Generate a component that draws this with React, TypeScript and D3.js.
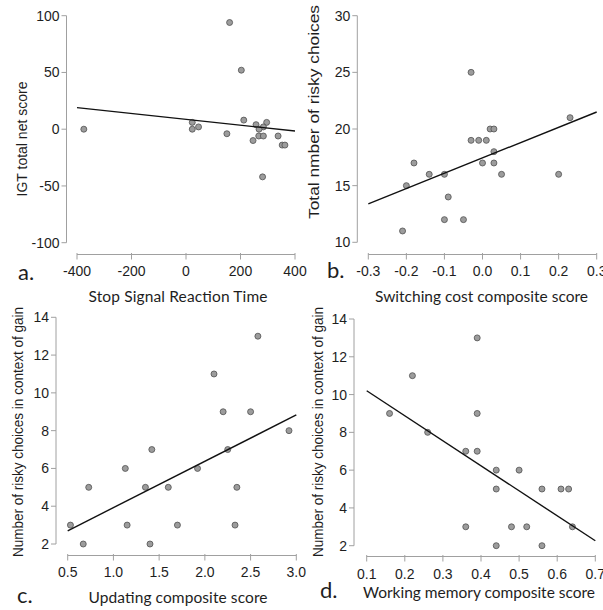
import React from "react";
import * as d3 from "d3";

// ---- Data ----
// a. Stop Signal Reaction Time vs IGT total net score
const aX = [-375, 160, 203, 212, 23, 23, 46, 150, 257, 296, 284, 268, 246, 267, 284, 338, 353, 363, 281];
const aY = [0, 94, 52, 8, 6, 0, 2, -4, 4, 6, 2, 0, -10, -6, -6, -6, -14, -14, -42];
const aFit = [19.0, -1.6]; // fitted y at x-domain ends

// b. Switching cost composite score vs total number of risky choices
const bX = [-0.03, 0.23, 0.02, 0.03, -0.03, -0.01, 0.01, 0.03, -0.18, 0.0, 0.03, -0.14, -0.1, 0.05, 0.2, -0.2, -0.09, -0.1, -0.05, -0.21];
const bY = [25, 21, 20, 20, 19, 19, 19, 18, 17, 17, 17, 16, 16, 16, 16, 15, 14, 12, 12, 11];
const bFit = [13.4, 21.5];

// c. Updating composite score vs risky choices in context of gain
const cX = [0.53, 0.67, 0.73, 1.13, 1.15, 1.35, 1.42, 1.4, 1.6, 1.7, 1.92, 2.1, 2.2, 2.25, 2.35, 2.33, 2.5, 2.58, 2.92];
const cY = [3, 2, 5, 6, 3, 5, 7, 2, 5, 3, 6, 11, 9, 7, 5, 3, 9, 13, 8];
const cFit = [2.7, 8.83];

// d. Working memory composite score vs risky choices in context of gain
const dX = [0.16, 0.22, 0.26, 0.36, 0.39, 0.39, 0.39, 0.44, 0.44, 0.5, 0.56, 0.61, 0.63, 0.36, 0.48, 0.52, 0.64, 0.44, 0.56];
const dY = [9, 11, 8, 7, 13, 9, 7, 6, 5, 6, 5, 5, 5, 3, 3, 3, 3, 2, 2];
const dFit = [10.2, 2.26];

// Ticks
const aXTicks = [-400, -200, 0, 200, 400];
const aYTicks = [-100, -50, 0, 50, 100];
const bXTicks = [-0.3, -0.2, -0.1, 0.0, 0.1, 0.2, 0.3];
const bYTicks = [10, 15, 20, 25, 30];
const cXTicks = [0.5, 1.0, 1.5, 2.0, 2.5, 3.0];
const cYTicks = [2, 4, 6, 8, 10, 12, 14];
const dXTicks = [0.1, 0.2, 0.3, 0.4, 0.5, 0.6, 0.7];
const dYTicks = [2, 4, 6, 8, 10, 12, 14];

// Labels
const panelLetters = ["a.", "b.", "c.", "d."];
const xTitles = [
  "Stop Signal Reaction Time",
  "Switching cost composite score",
  "Updating composite score",
  "Working memory composite score",
];
const yTitles = [
  "IGT total net score",
  "Total nmber of risky choices",
  "Number of risky choices in context of gain",
  "Number of risky choices in context of gain",
];

type Panel = {
  xs: number[]; ys: number[]; fit: number[];
  xTicks: number[]; yTicks: number[]; xFmt: (v: number) => string;
  xRange: [number, number]; yRange: [number, number];
  yAxisX: number; xAxisY: number; tickBase: number;
  letter: string; letterX: number; letterY: number;
  xTitle: string; xTitleX: number; xTitleY: number; xTitleLen: number;
  yTitle: string; yTitleX: number; yTitleY: number; yTitleLen?: number;
};

const hy = (s: string) => s.replace("\u2212", "-");
const fmt0 = (v: number) => hy(d3.format("d")(v));
const fmt1 = (v: number) => hy(d3.format(".1f")(v));

const panels: Panel[] = [
  {
    xs: aX, ys: aY, fit: aFit, xTicks: aXTicks, yTicks: aYTicks, xFmt: fmt0,
    xRange: [77, 295], yRange: [242.7, 15.7], yAxisX: 66.5, xAxisY: 254.5, tickBase: 276,
    letter: panelLetters[0], letterX: 18, letterY: 280,
    xTitle: xTitles[0], xTitleX: 178, xTitleY: 302, xTitleLen: 179,
    yTitle: yTitles[0], yTitleX: 27, yTitleY: 139,
  },
  {
    xs: bX, ys: bY, fit: bFit, xTicks: bXTicks, yTicks: bYTicks, xFmt: fmt1,
    xRange: [368.3, 596.7], yRange: [242.3, 15.7], yAxisX: 357.3, xAxisY: 254.5, tickBase: 276,
    letter: panelLetters[1], letterX: 327, letterY: 278,
    xTitle: xTitles[1], xTitleX: 481.5, xTitleY: 302, xTitleLen: 213,
    yTitle: yTitles[1], yTitleX: 319, yTitleY: 112, yTitleLen: 214,
  },
  {
    xs: cX, ys: cY, fit: cFit, xTicks: cXTicks, yTicks: cYTicks, xFmt: fmt1,
    xRange: [67.7, 296.3], yRange: [544, 317.3], yAxisX: 56, xAxisY: 555.5, tickBase: 577,
    letter: panelLetters[2], letterX: 17, letterY: 603,
    xTitle: xTitles[2], xTitleX: 178, xTitleY: 603, xTitleLen: 179,
    yTitle: yTitles[2], yTitleX: 23, yTitleY: 432, yTitleLen: 250,
  },
  {
    xs: dX, ys: dY, fit: dFit, xTicks: dXTicks, yTicks: dYTicks, xFmt: fmt1,
    xRange: [366.7, 595.3], yRange: [545.7, 319], yAxisX: 354, xAxisY: 556.5, tickBase: 578.5,
    letter: panelLetters[3], letterX: 320, letterY: 598,
    xTitle: xTitles[3], xTitleX: 479, xTitleY: 598, xTitleLen: 232,
    yTitle: yTitles[3], yTitleX: 323, yTitleY: 432, yTitleLen: 250,
  },
];

const AXIS = "#a0a0a0";
const TEXT = "#1e1e1e";
const NUM_FONT = "'Liberation Sans', Arial, sans-serif";
const TITLE_FONT = "Lato, 'Open Sans', sans-serif";

function ScatterPanel({ p }: { p: Panel }) {
  const xDom = d3.extent(p.xTicks) as [number, number];
  const yDom = d3.extent(p.yTicks) as [number, number];
  const x = d3.scaleLinear().domain(xDom).range(p.xRange);
  const y = d3.scaleLinear().domain(yDom).range(p.yRange);
  const line = d3.line<[number, number]>().x((d) => x(d[0])).y((d) => y(d[1]));
  const fitPts: [number, number][] = [
    [xDom[0], p.fit[0]],
    [xDom[1], p.fit[1]],
  ];
  return (
    <g>
      {/* y axis */}
      <line x1={p.yAxisX} x2={p.yAxisX} y1={y(yDom[0])} y2={y(yDom[1])} stroke={AXIS} strokeWidth={1} />
      {p.yTicks.map((t) => (
        <g key={"yt" + t}>
          <line x1={p.yAxisX - 5} x2={p.yAxisX} y1={y(t)} y2={y(t)} stroke={AXIS} strokeWidth={1} />
          <text x={p.yAxisX - 7} y={y(t)} dy="0.36em" textAnchor="end" fontFamily={NUM_FONT} fontSize={14} fill={TEXT}>
            {fmt0(t)}
          </text>
        </g>
      ))}
      {/* x axis */}
      <line x1={x(xDom[0])} x2={x(xDom[1])} y1={p.xAxisY} y2={p.xAxisY} stroke={AXIS} strokeWidth={1} />
      {p.xTicks.map((t) => (
        <g key={"xt" + t}>
          <line x1={x(t)} x2={x(t)} y1={p.xAxisY - 1.5} y2={p.xAxisY + 5} stroke={AXIS} strokeWidth={1} />
          <text x={x(t)} y={p.tickBase} textAnchor="middle" fontFamily={NUM_FONT} fontSize={14} fill={TEXT}>
            {p.xFmt(t)}
          </text>
        </g>
      ))}
      {/* points */}
      {p.xs.map((v, i) => (
        <circle key={"pt" + i} cx={x(v)} cy={y(p.ys[i])} r={3} fill="#9c9c9c" stroke="#505050" strokeWidth={0.8} />
      ))}
      {/* regression line */}
      <path d={line(fitPts) || ""} fill="none" stroke="#111" strokeWidth={1.4} />
      {/* titles */}
      <text
        transform={`translate(${p.yTitleX},${p.yTitleY}) rotate(-90)`}
        textAnchor="middle"
        fontFamily={NUM_FONT}
        fontSize={14}
        fill={TEXT}
        textLength={p.yTitleLen}
        lengthAdjust={p.yTitleLen ? "spacingAndGlyphs" : undefined}
      >
        {p.yTitle}
      </text>
      <text
        x={p.xTitleX}
        y={p.xTitleY}
        textAnchor="middle"
        fontFamily={TITLE_FONT}
        fontSize={15.5}
        fill={TEXT}
        textLength={p.xTitleLen}
        lengthAdjust="spacing"
      >
        {p.xTitle}
      </text>
      <text x={p.letterX} y={p.letterY} fontFamily={TITLE_FONT} fontSize={22} fill={TEXT}>
        {p.letter}
      </text>
    </g>
  );
}

export default function App() {
  return (
    <svg
      width={603}
      height={610}
      viewBox="0 0 603 610"
      style={{ position: "absolute", left: 0, top: 0, background: "#fff" }}
    >
      <rect x={0} y={0} width={603} height={610} fill="#fff" />
      {panels.map((p, i) => (
        <ScatterPanel key={i} p={p} />
      ))}
    </svg>
  );
}
